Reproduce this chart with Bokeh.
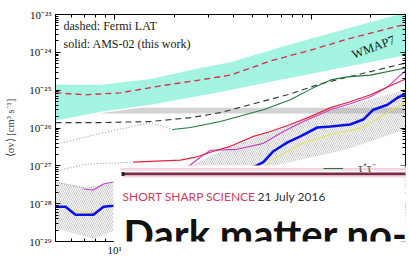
from bokeh.plotting import figure
from bokeh.models import (FixedTicker, CustomJSTickFormatter, LogAxis, Label,
                          BoxAnnotation, Legend, LegendItem)
from bokeh.embed import file_html
from bokeh.resources import INLINE

# ---- ticks ----
x_major = [10, 100]
x_minor = [5, 6, 7, 8, 9, 20, 30, 40, 50, 60, 70, 80, 90, 200, 300]
x_major_visible = [10]            # bottom axis: the rest lies under the banner
x_minor_visible = [5, 6, 7, 8, 9]
y_major = [1e-29, 1e-28, 1e-27, 1e-26, 1e-25, 1e-24, 1e-23]
y_minor = [k * 10.0 ** e for e in range(-29, -23) for k in range(2, 10)]

# ---- WMAP7 band ----
wmap_top_m = [5, 8.5, 15.2, 27.2, 38.7, 69.5, 140, 300]
wmap_top_sv = [1.38e-25, 1.38e-25, 1.98e-25, 3.85e-25, 5.5e-25, 1.36e-24, 3.8e-24, 1.13e-23]
wmap_bot_m = [5, 8.5, 15.2, 34.4, 61.8, 140, 300]
wmap_bot_sv = [1.57e-26, 2.7e-26, 4.13e-26, 9.0e-26, 1.66e-25, 3.85e-25, 8.4e-25]

# ---- thermal relic band ----
thermal_m = [8.17, 13.5, 300, 300]
thermal_sv = [2.4e-26, 3.45e-26, 3.45e-26, 2.4e-26]

# ---- hatched region ----
hatch_m = [5, 7.1, 9.86, 23.4, 34.4, 55, 87.7, 140, 224, 300, 300, 152, 69.5, 9.74, 7.79, 5]
hatch_sv = [3.73e-28, 2.76e-28, 3.5e-28, 9.2e-28, 2.43e-27, 6.4e-27, 1.57e-26, 3.45e-26,
            6.7e-26, 1.02e-25, 9.1e-27, 2.73e-27, 1.1e-27, 1.83e-29, 1.2e-29, 2.2e-29]

# ---- Fermi LAT (dashed) ----
fermi_red_m = [5, 7.1, 10.7, 17.1, 27.2, 38.7, 61.8, 98.7, 157, 300]
fermi_red_sv = [8.5e-26, 7.55e-26, 8.5e-26, 1.3e-25, 1.87e-25, 2.5e-25, 5.9e-25, 1.14e-24, 2.35e-24, 5.5e-24]
fermi_blk_m = [5, 8.47, 15.2, 24.3, 34.4, 53.1, 75.4, 111, 163, 300]
fermi_blk_sv = [1.39e-26, 1.39e-26, 1.48e-26, 1.88e-26, 2.55e-26, 4.66e-26, 7.55e-26, 1.47e-25, 2.4e-25, 5.2e-25]

# ---- AMS-02 (solid) ----
green_m = [19.6, 24.3, 34.4, 56.9, 78, 102, 125, 152, 199, 300]
green_sv = [9.1e-27, 1.03e-26, 1.48e-26, 3.05e-26, 5.6e-26, 1.15e-25, 1.87e-25, 2.24e-25, 2.5e-25, 3.85e-25]
red_m = [12.4, 21.6, 25.7, 31.7, 38.7, 50.7, 61.8, 78, 98.7, 125, 157, 199, 300]
red_sv = [1.25e-27, 1.41e-27, 1.69e-27, 2.43e-27, 3.28e-27, 6.0e-27, 8.1e-27, 1.24e-26,
          2.0e-26, 3.45e-26, 4.95e-26, 7.55e-26, 1.98e-25]
magenta_m = [6.94, 7.79, 8.77, 9.86, 23.4, 27.2, 30.6, 42.0, 56.9, 71.9, 90.9, 125, 163, 199, 243, 300]
magenta_sv = [2.45e-28, 2.3e-28, 3.31e-28, 3.73e-28, 9.2e-28, 1.69e-27, 2.58e-27, 2.73e-27,
              3.93e-27, 8.1e-27, 1.48e-26, 3.05e-26, 4.66e-26, 6.7e-26, 1.22e-25, 3.3e-25]
blue_m = [5, 5.62, 6.32, 7.79, 8.77, 9.86, 50.7, 56.9, 64, 75.4, 87.7, 107, 125, 157, 183, 206, 243, 273, 300]
blue_sv = [8.3e-29, 8.3e-29, 5.1e-29, 5.1e-29, 8.3e-29, 8.8e-29, 9.2e-28, 1.25e-27, 2.43e-27,
           4.17e-27, 6.0e-27, 1.03e-26, 1.1e-26, 1.24e-26, 1.67e-26, 3.05e-26, 4.13e-26, 6.3e-26, 8.0e-26]
yellow_l_m = [5, 5.96, 7.98, 9.5]
yellow_l_sv = [1.05e-28, 6.5e-29, 5.75e-29, 9.9e-29]
yellow_r_m = [50.7, 64, 87.7, 125, 183, 243, 300]
yellow_r_sv = [5.7e-28, 1.5e-27, 3.7e-27, 6.76e-27, 1.03e-26, 2.55e-26, 4.95e-26]

# ---- extrapolated (dotted) ----
dot1_m = [5, 8.47, 15.2, 19.6]
dot1_sv = [3.7e-27, 7.2e-27, 1.39e-26, 9.1e-27]
dot2_m = [5, 7.1, 12.4]
dot2_sv = [7.26e-28, 1.1e-27, 1.25e-27]
dot3_m = [5, 6.94]
dot3_sv = [3.73e-28, 2.6e-28]

SERIF = "Liberation Serif"

p = figure(width=409, height=258, x_axis_type="log", y_axis_type="log",
           x_range=(5, 300), y_range=(1e-29, 1e-23),
           output_backend="svg", toolbar_location=None,
           min_border_left=55, min_border_right=4, min_border_top=14, min_border_bottom=15,
           background_fill_color="white", border_fill_color="white",
           outline_line_color=None)
p.grid.visible = False

fmt_js = """
const sup = {"-":"\u207b","0":"\u2070","1":"\u00b9","2":"\u00b2","3":"\u00b3","4":"\u2074",
             "5":"\u2075","6":"\u2076","7":"\u2077","8":"\u2078","9":"\u2079"};
const e = Math.round(Math.log10(tick));
return "10" + String(e).split("").map(c => sup[c]).join("");
"""

def style_axis(ax, labels=True):
    ax.major_tick_in = 5
    ax.major_tick_out = 0
    ax.minor_tick_in = 3
    ax.minor_tick_out = 0
    ax.axis_line_color = "black"
    ax.major_tick_line_color = "black"
    ax.minor_tick_line_color = "black"
    if labels:
        ax.formatter = CustomJSTickFormatter(code=fmt_js)
        ax.major_label_text_font = SERIF
        ax.major_label_text_font_size = "11px"
        ax.major_label_text_color = "#111111"
    else:
        ax.formatter = CustomJSTickFormatter(code="return '';")
        ax.major_label_text_font_size = "1px"
        ax.major_label_standoff = 0

xb = p.below[0]
xb.ticker = FixedTicker(ticks=x_major_visible, minor_ticks=x_minor_visible)
style_axis(xb)
xb.major_label_standoff = 2
xb.bounds = (5, 10)

yl = p.left[0]
yl.ticker = FixedTicker(ticks=y_major, minor_ticks=y_minor)
style_axis(yl)
yl.major_label_standoff = 4
yl.axis_label = "\u27e8\u03c3v\u27e9 [cm\u00b3 s\u207b\u00b9]"
yl.axis_label_text_font = SERIF
yl.axis_label_text_font_size = "10.5px"
yl.axis_label_text_font_style = "normal"
yl.axis_label_standoff = 10

xt = LogAxis(ticker=FixedTicker(ticks=x_major, minor_ticks=x_minor))
style_axis(xt, labels=False)
p.add_layout(xt, "above")
yr = LogAxis(ticker=FixedTicker(ticks=y_major, minor_ticks=y_minor), bounds=(9.2e-28, 1e-23))
style_axis(yr, labels=False)
p.add_layout(yr, "right")

# bands
p.patch(wmap_top_m + wmap_bot_m[::-1], wmap_top_sv + wmap_bot_sv[::-1],
        fill_color="#a4f4e2", line_alpha=0)
p.patch(thermal_m, thermal_sv, fill_color="#c4c4c4", fill_alpha=0.75, line_alpha=0)
p.patch(hatch_m, hatch_sv, fill_alpha=0, line_alpha=0, hatch_pattern="\\",
        hatch_color="#9a9a9a", hatch_alpha=0.9, hatch_scale=4, hatch_weight=0.6)

# dotted extrapolations
for xm, ys in [(dot1_m, dot1_sv), (dot2_m, dot2_sv), (dot3_m, dot3_sv)]:
    p.line(xm, ys, line_color="#8c8c8c", line_width=1, line_dash="1 2")

# Fermi dashed
p.line(fermi_blk_m, fermi_blk_sv, line_color="#333333", line_width=1.1, line_dash="6 4")
p.line(fermi_red_m, fermi_red_sv, line_color="#e0264a", line_width=1.3, line_dash="6 4")

# AMS-02 solid
p.line(yellow_l_m, yellow_l_sv, line_color="#e6e04a", line_width=1)
p.line(yellow_r_m, yellow_r_sv, line_color="#e6e04a", line_width=1)
r_green = p.line(green_m, green_sv, line_color="#1e7a3c", line_width=1.1)
p.line(magenta_m, magenta_sv, line_color="#c43cc4", line_width=1.1)
p.line(red_m, red_sv, line_color="#e8203c", line_width=1.2)
p.line(blue_m, blue_sv, line_color="#0a10e6", line_width=2.6)

# texts in the plot
p.add_layout(Label(x=8, y=216, x_units="screen", y_units="screen", text="dashed: Fermi LAT",
                   text_font=SERIF, text_font_size="12px", text_baseline="middle", text_color="#1a1a1a"))
p.add_layout(Label(x=8, y=198, x_units="screen", y_units="screen", text="solid: AMS-02 (this work)",
                   text_font=SERIF, text_font_size="12px", text_baseline="middle", text_color="#1a1a1a"))
p.add_layout(Label(x=350, y=236, x_units="screen", y_units="screen", text="Bergstr\u00f6m et al. (2013)",
                   text_font=SERIF, text_font_size="8px", text_baseline="middle", text_align="right",
                   text_color="#333333"))
p.add_layout(Label(x=206, y=1.36e-24, text="WMAP7", angle=0.36, text_font=SERIF, text_font_size="12.5px",
                   text_align="center", text_baseline="middle", text_color="#1a1a1a"))

# legend (mostly hidden under the banner)
legend = Legend(items=[LegendItem(label="\u03c4\u207a\u03c4\u207b", renderers=[r_green])],
                location=(268, 65), padding=0, margin=0, spacing=0, label_height=12,
                glyph_height=12, glyph_width=20, label_standoff=15,
                background_fill_alpha=0, border_line_alpha=0,
                label_text_font=SERIF, label_text_font_size="12px")
p.add_layout(legend)

# overlay banner
def sbox(left, right, top, bottom, color):
    return BoxAnnotation(left=left, right=right, top=top, bottom=bottom, left_units="screen",
                         right_units="screen", top_units="screen", bottom_units="screen",
                         fill_color=color, fill_alpha=1, line_alpha=0, level="overlay")

p.add_layout(sbox(58, 360, 76, -20, "white"))
p.add_layout(sbox(65, 360, 73.5, 71, "#f6d2dd"))
p.add_layout(sbox(67, 360, 69, 66, "#7b2a46"))
p.add_layout(sbox(67, 360, 66, 64, "#f2d8e0"))
p.add_layout(sbox(66, 69, 69.5, 65.5, "#222222"))
p.add_layout(Label(x=67, y=38, x_units="screen", y_units="screen", text="SHORT SHARP SCIENCE",
                   text_font="Lato", text_font_size="12px", text_color="#c8405f",
                   text_baseline="bottom", level="overlay"))
p.add_layout(Label(x=202, y=38, x_units="screen", y_units="screen", text="21 July 2016",
                   text_font="Lato", text_font_size="12px", text_color="#333333",
                   text_baseline="bottom", level="overlay"))
p.add_layout(Label(x=58, y=-16, x_units="screen", y_units="screen", text="Dark matter no-",
                   text_font="Lato", text_font_size="40px", text_font_style="bold",
                   text_color="#111111", text_baseline="bottom", level="overlay",
                   background_fill_color="white", background_fill_alpha=1,
                   padding=dict(left=10, right=0, top=0, bottom=0)))

open("out.html", "w", encoding="utf-8").write(file_html(p, INLINE))
